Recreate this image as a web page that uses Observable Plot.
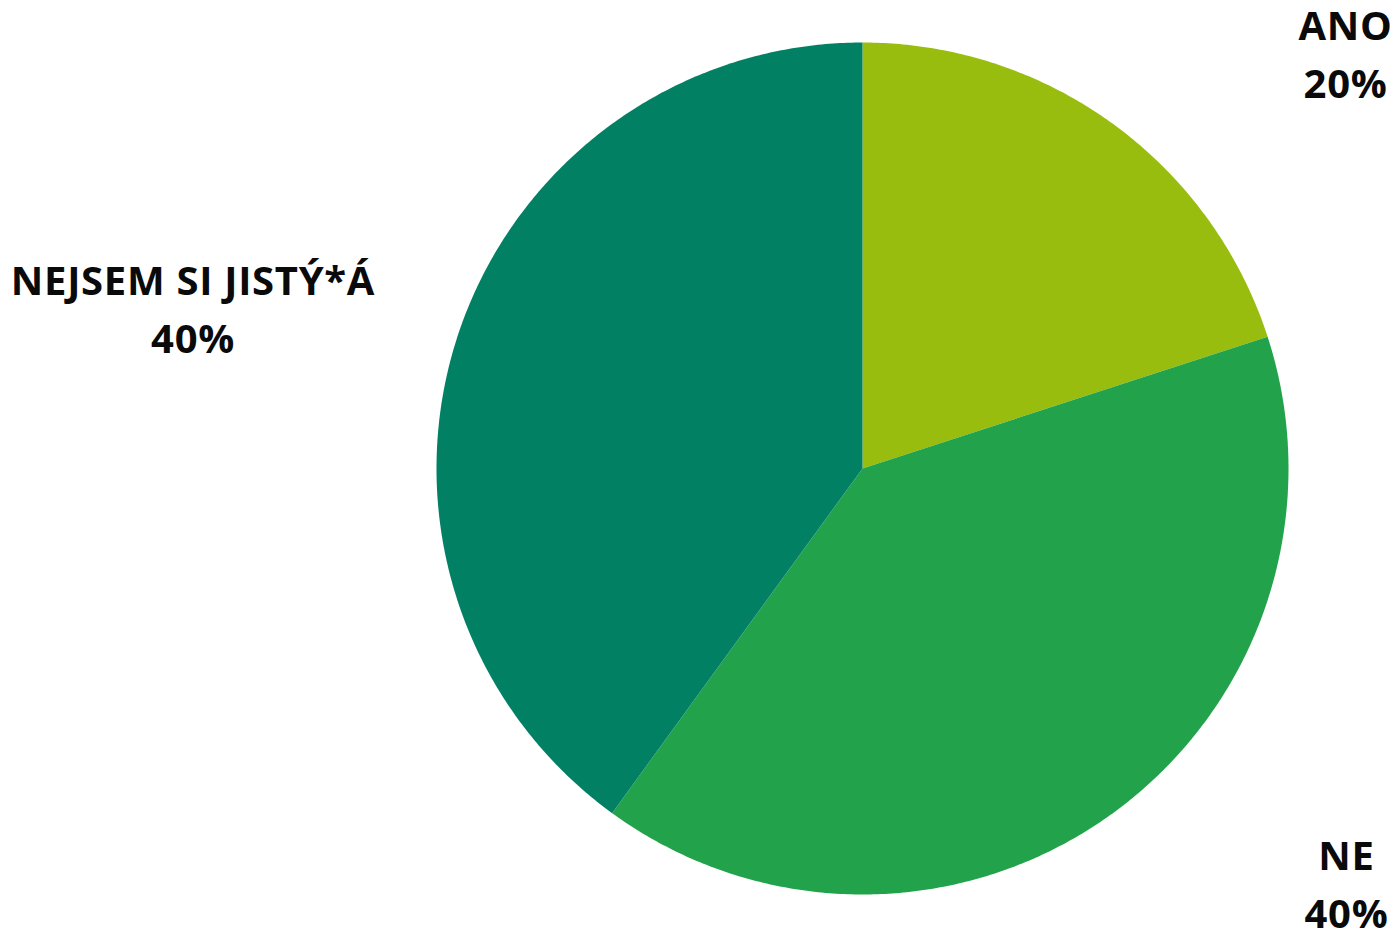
<!DOCTYPE html>
<html>
<head>
<meta charset="utf-8">
<script src="https://cdn.jsdelivr.net/npm/d3@7"></script>
<script src="https://cdn.jsdelivr.net/npm/@observablehq/plot@0.6"></script>
<style>
  html, body { margin: 0; padding: 0; background: #fff; }
  #chart { width: 1398px; height: 931px; }
</style>
</head>
<body>
<div id="chart"></div>
<script>
// --- data ---
const categories = ["ANO", "NE", "NEJSEM SI JISTÝ*Á"];
const values = [20, 40, 40];
const colors = ["#99bd0f", "#22a34b", "#028064"];

// --- layout (label anchors in pie-radius units, relative to centre) ---
const labelAnchors = [[1.1338, -0.9812], [1.136, 0.9665], [-1.5716, -0.3826]];

const total = d3.sum(values);
const arcs = d3.pie().sort(null).value(d => d)(values);

function slicePolygon(a) {
  const steps = Math.max(2, Math.ceil((a.endAngle - a.startAngle) / (Math.PI / 360)));
  const ring = [[0, 0]];
  for (let i = 0; i <= steps; i++) {
    const t = a.startAngle + (a.endAngle - a.startAngle) * i / steps;
    ring.push([Math.sin(t), -Math.cos(t)]);
  }
  ring.push([0, 0]);
  return ring;
}

const features = arcs.map((a, i) => ({
  type: "Feature",
  properties: {name: categories[i], value: values[i]},
  geometry: {type: "Polygon", coordinates: [slicePolygon(a)]}
}));

const labels = categories.map((c, i) => ({
  text: `${c}\n${Math.round(values[i] / total * 100)}%`,
  x: labelAnchors[i][0],
  y: labelAnchors[i][1]
}));

const chart = Plot.plot({
  width: 1398,
  height: 931,
  marginLeft: 436,
  marginRight: 110,
  marginTop: 42,
  marginBottom: 37,
  style: {background: "#fff", overflow: "visible", letterSpacing: "0.7px"},
  projection: {
    type: "identity",
    clip: false,
    domain: {type: "MultiPoint", coordinates: [[-1, -1], [1, 1]]}
  },
  color: {domain: categories, range: colors},
  marks: [
    Plot.geo(features, {fill: d => d.properties.name, stroke: null}),
    Plot.text(labels, {
      x: "x", y: "y", text: "text",
      fontSize: 40, fontWeight: "bold", fontFamily: "'Open Sans', sans-serif",
      fill: "#0a0a0a", lineHeight: 1.45, lineAnchor: "middle", textAnchor: "middle"
    })
  ]
});
document.getElementById("chart").appendChild(chart);
</script>
</body>
</html>
